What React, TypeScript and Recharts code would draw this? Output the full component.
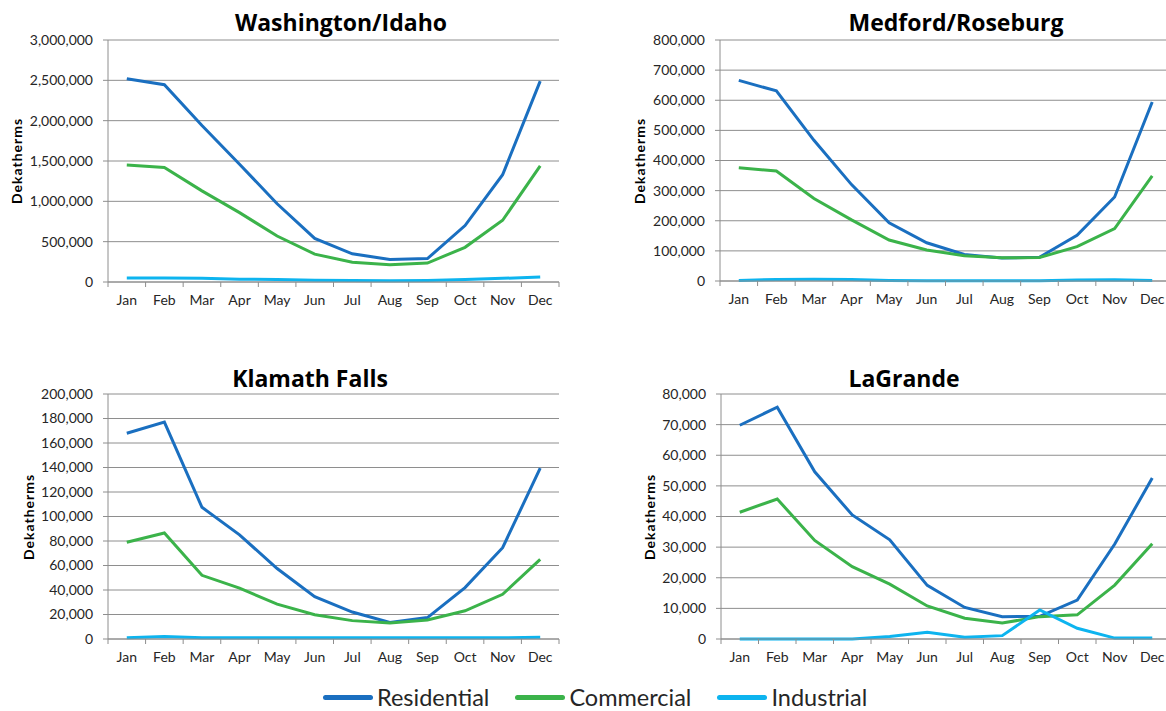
import React from 'react';
import { LineChart, Line, XAxis, YAxis, CartesianGrid } from 'recharts';

const months = ['Jan', 'Feb', 'Mar', 'Apr', 'May', 'Jun', 'Jul', 'Aug', 'Sep', 'Oct', 'Nov', 'Dec'];

// Washington/Idaho
const waResidential = [2520000, 2445000, 1940000, 1460000, 970000, 540000, 350000, 280000, 290000, 700000, 1330000, 2490000];
const waCommercial = [1450000, 1420000, 1130000, 860000, 570000, 345000, 245000, 215000, 235000, 430000, 765000, 1440000];
const waIndustrial = [50000, 50000, 45000, 35000, 30000, 22000, 18000, 15000, 18000, 30000, 45000, 62000];
const waTicks = [0, 500000, 1000000, 1500000, 2000000, 2500000, 3000000];

// Medford/Roseburg
const mrResidential = [666000, 631000, 467000, 320000, 193000, 127000, 88000, 76000, 79000, 152000, 279000, 594000];
const mrCommercial = [376000, 365000, 274000, 203000, 136000, 103000, 84000, 77000, 78000, 114000, 174000, 349000];
const mrIndustrial = [2000, 5000, 6000, 5000, 2000, 1000, 1000, 1000, 1000, 3000, 4000, 2000];
const mrTicks = [0, 100000, 200000, 300000, 400000, 500000, 600000, 700000, 800000];

// Klamath Falls
const kfResidential = [168000, 177000, 107500, 85000, 57500, 34500, 22000, 13500, 17500, 42000, 74500, 139500];
const kfCommercial = [79000, 86500, 52000, 41500, 28500, 19800, 15000, 13000, 15500, 23000, 36500, 65000];
const kfIndustrial = [1000, 2000, 1000, 1000, 1000, 1000, 1000, 1000, 1000, 1000, 1000, 1500];
const kfTicks = [0, 20000, 40000, 60000, 80000, 100000, 120000, 140000, 160000, 180000, 200000];

// LaGrande
const lgResidential = [69800, 75700, 54600, 40500, 32400, 17500, 10300, 7300, 7400, 12700, 31000, 52600];
const lgCommercial = [41400, 45700, 32200, 23600, 17900, 10800, 6800, 5200, 7300, 7900, 17600, 31100];
const lgIndustrial = [0, 0, 0, 0, 800, 2200, 600, 1100, 9500, 3500, 300, 300];
const lgTicks = [0, 10000, 20000, 30000, 40000, 50000, 60000, 70000, 80000];

const seriesNames = ['Residential', 'Commercial', 'Industrial'];
const colors = ['#1a6fc0', '#3bb34a', '#0db4ef'];
const boundaryTicks = months.map((_, i) => i).concat(months.length);

const GRID = '#8e8e8e';
const FONT = 'Lato, "Open Sans", sans-serif';
const TICK_SIZE = 14;

type Panel = {
  title: string;
  res: number[];
  com: number[];
  ind: number[];
  ticks: number[];
  left: number;
  top: number;
  width: number;
  height: number;
  axisW: number;
  marginTop: number;
  marginRight: number;
  marginBottom: number;
  titleX: number;
  titleY: number;
  labelX: number;
};

const panels: Panel[] = [
  { title: 'Washington/Idaho', res: waResidential, com: waCommercial, ind: waIndustrial, ticks: waTicks,
    left: 0, top: 0, width: 580, height: 320, axisW: 108, marginTop: 40, marginRight: 21, marginBottom: 8,
    titleX: 341, titleY: 7, labelX: 17 },
  { title: 'Medford/Roseburg', res: mrResidential, com: mrCommercial, ind: mrIndustrial, ticks: mrTicks,
    left: 580, top: 0, width: 591, height: 320, axisW: 140, marginTop: 40, marginRight: 0, marginBottom: 9,
    titleX: 956, titleY: 7, labelX: 640 },
  { title: 'Klamath Falls', res: kfResidential, com: kfCommercial, ind: kfIndustrial, ticks: kfTicks,
    left: 0, top: 350, width: 580, height: 330, axisW: 108, marginTop: 44, marginRight: 21, marginBottom: 11,
    titleX: 310, titleY: 363, labelX: 29 },
  { title: 'LaGrande', res: lgResidential, com: lgCommercial, ind: lgIndustrial, ticks: lgTicks,
    left: 580, top: 350, width: 591, height: 330, axisW: 141, marginTop: 44, marginRight: 0, marginBottom: 11,
    titleX: 904, titleY: 363, labelX: 650 },
];

const fmt = (v: number) => v.toLocaleString('en-US');

function makeMonthTick(bw: number) {
  return (props: any) => {
    const { x, y, payload } = props;
    const i = payload.value;
    if (i >= months.length) return <g />;
    return (
      <text x={x + bw / 2} y={y} dy="0.71em" textAnchor="middle" fill="#262626"
        fontFamily={FONT} fontSize={TICK_SIZE}>
        {months[i]}
      </text>
    );
  };
}

function PanelChart({ p }: { p: Panel }) {
  const data = months.map((m, i) => ({
    x: i + 0.5,
    month: m,
    Residential: p.res[i],
    Commercial: p.com[i],
    Industrial: p.ind[i],
  }));
  const plotW = p.width - p.axisW - p.marginRight;
  const bw = plotW / months.length;
  const plotTop = p.top + p.marginTop;
  const plotBottom = p.top + p.height - p.marginBottom - 30;

  return (
    <>
      <div style={{ position: 'absolute', left: p.left, top: p.top }}>
        <LineChart width={p.width} height={p.height} data={data}
          margin={{ top: p.marginTop, right: p.marginRight, left: 0, bottom: p.marginBottom }}>
          <CartesianGrid vertical={false} stroke={GRID} strokeWidth={1} />
          <XAxis type="number" dataKey="x" domain={[0, months.length]} ticks={boundaryTicks}
            interval={0} height={30} tickSize={5} tickMargin={8}
            axisLine={{ stroke: GRID }} tickLine={{ stroke: GRID }}
            tick={makeMonthTick(bw)} />
          <YAxis type="number" domain={[0, p.ticks[p.ticks.length - 1]]} ticks={p.ticks}
            interval={0} width={p.axisW} tickSize={5} tickMargin={10}
            tickFormatter={fmt}
            axisLine={{ stroke: GRID }} tickLine={{ stroke: GRID }}
            tick={{ fill: '#262626', fontFamily: FONT, fontSize: TICK_SIZE }} />
          {seriesNames.map((name, k) => (
            <Line key={name} type="linear" dataKey={name} stroke={colors[k]} strokeWidth={3}
              dot={false} isAnimationActive={false} />
          ))}
        </LineChart>
      </div>
      <div style={{
        position: 'absolute', left: p.titleX, top: p.titleY, transform: 'translateX(-50%)',
        fontFamily: '"Open Sans", Lato, sans-serif', fontWeight: 700, fontSize: 23,
        color: '#000', whiteSpace: 'nowrap', lineHeight: '30px',
      }}>
        {p.title}
      </div>
      <div style={{
        position: 'absolute', left: p.labelX, top: (plotTop + plotBottom) / 2,
        transform: 'translate(-50%, -50%) rotate(-90deg)',
        fontFamily: FONT, fontWeight: 700, fontSize: 14, letterSpacing: 1,
        color: '#000', whiteSpace: 'nowrap', lineHeight: '14px',
      }}>
        Dekatherms
      </div>
    </>
  );
}

export default function App() {
  return (
    <div style={{ position: 'absolute', left: 0, top: 0, width: 1166, height: 711, overflow: 'hidden', background: '#fff' }}>
      {panels.map((p) => <PanelChart key={p.title} p={p} />)}
      <div style={{
        position: 'absolute', left: 323, top: 681, height: 32,
        display: 'flex', alignItems: 'center',
        fontFamily: FONT, fontSize: 23.5, color: '#262626', whiteSpace: 'nowrap',
      }}>
        {seriesNames.map((name, k) => (
          <div key={name} style={{ display: 'flex', alignItems: 'center', marginRight: k < 2 ? 26 : 0 }}>
            <div style={{ width: 50, height: 5, borderRadius: 2.5, background: colors[k], marginRight: 4 }} />
            <span>{name}</span>
          </div>
        ))}
      </div>
    </div>
  );
}
